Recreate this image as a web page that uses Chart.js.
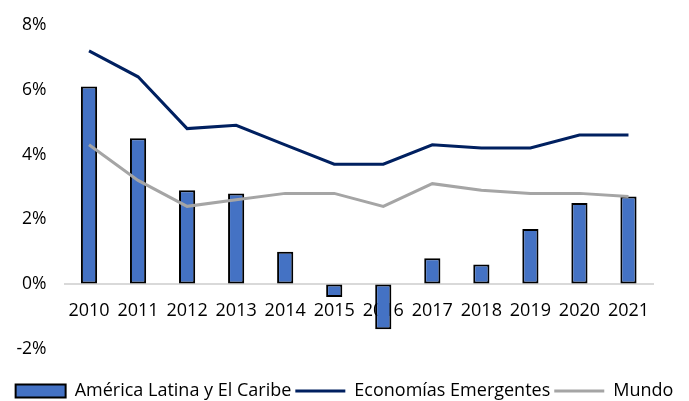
<!DOCTYPE html>
<html>
<head>
<meta charset="utf-8">
<script src="https://cdn.jsdelivr.net/npm/chart.js@4"></script>
<style>
  body { margin: 0; background: #fff; }
  #wrap { position: relative; width: 689px; height: 401px; }
</style>
</head>
<body>
<div id="wrap"><canvas id="chart"></canvas></div>
<script>
const years = ['2010', '2011', '2012', '2013', '2014', '2015', '2016', '2017', '2018', '2019', '2020', '2021'];
const latam = [6.1, 4.5, 2.9, 2.8, 1.0, -0.4, -1.4, 0.8, 0.6, 1.7, 2.5, 2.7];
const emergentes = [7.2, 6.4, 4.8, 4.9, 4.3, 3.7, 3.7, 4.3, 4.2, 4.2, 4.6, 4.6];
const mundo = [4.3, 3.2, 2.4, 2.6, 2.8, 2.8, 2.4, 3.1, 2.9, 2.8, 2.8, 2.7];

const font = "'Open Sans', 'Liberation Sans', sans-serif";
Chart.defaults.font.family = font;
Chart.defaults.color = '#000';

let data = {
    labels: years,
    datasets: [{
        type: 'bar',
        label: 'América Latina y El Caribe',
        data: latam,
        backgroundColor: '#4472C4',
        borderColor: '#000',
        borderWidth: 2,
        borderSkipped: false,
        barPercentage: 0.66,
        categoryPercentage: 0.5,
        pointStyle: 'rect',
        order: 2
    }, {
        type: 'line',
        label: 'Economías Emergentes',
        data: emergentes,
        borderColor: '#002060',
        backgroundColor: '#002060',
        borderWidth: 3,
        pointRadius: 0,
        tension: 0,
        pointStyle: 'line',
        order: 1
    }, {
        type: 'line',
        label: 'Mundo',
        data: mundo,
        borderColor: '#A5A5A5',
        backgroundColor: '#A5A5A5',
        borderWidth: 3,
        pointRadius: 0,
        tension: 0,
        pointStyle: 'line',
        order: 1
    }]
};

let options = {
    responsive: true,
    maintainAspectRatio: false,
    animation: false,
    layout: { padding: { top: 25, right: 0, left: 0, bottom: -9 } },
    scales: {
        x: {
            position: { y: 0 },
            offset: true,
            grid: { display: false },
            border: { color: '#D9D9D9', width: 2 },
            ticks: { padding: 8, font: { size: 18 } }
        },
        y: {
            min: -2,
            max: 8,
            // invisible ticks give the gap between labels and plot
            grid: { display: true, drawOnChartArea: false, drawTicks: true, tickLength: 15, color: 'transparent' },
            border: { display: false },
            ticks: {
                stepSize: 2,
                padding: 3,
                font: { size: 17.5 },
                callback: v => v + '%'
            },
            afterFit: s => { s.width = 64.5; }
        },
        // empty right axis, only reserves the right margin
        yR: {
            position: 'right',
            grid: { display: false },
            border: { display: false },
            ticks: { display: false },
            afterFit: s => { s.width = 36; }
        }
    },
    plugins: {
        tooltip: { enabled: false },
        legend: {
            position: 'bottom',
            title: { display: true, text: '', padding: { top: 28, bottom: 0 }, font: { size: 1 } },
            labels: {
                usePointStyle: true,
                pointStyleWidth: 50,
                boxHeight: 13,
                padding: 4,
                font: { size: 18 },
                sort: (a, b) => a.datasetIndex - b.datasetIndex
            }
        }
    }
};

new Chart(document.getElementById('chart'), { data: data, options: options });
</script>
</body>
</html>
